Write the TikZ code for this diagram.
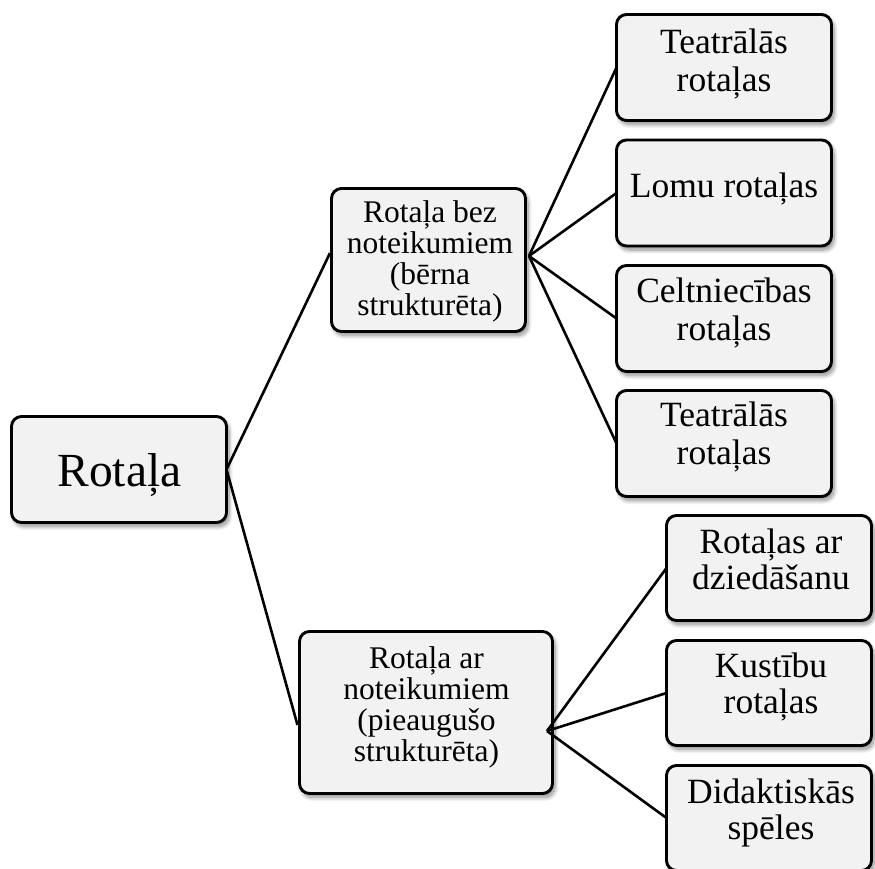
\documentclass[tikz,border=0pt]{standalone}
\usepackage{fontspec}
\setmainfont{Liberation Serif}
\usetikzlibrary{shadows.blur}
\definecolor{boxfill}{RGB}{242,242,242}
\begin{document}
\begin{tikzpicture}[x=1pt,y=-1pt,
  box/.style={draw=black, line width=2.9pt, fill=boxfill, rounded corners=10pt,
    inner sep=0pt, outer sep=0pt,
    blur shadow={shadow xshift=2.5pt, shadow yshift=-4pt, shadow blur radius=4pt,
      shadow blur steps=10, shadow opacity=45}},
  childbox/.style={box, minimum width=215pt, minimum height=106pt},
  lowbox/.style={box, minimum width=205pt, minimum height=105pt},
  txt/.style={anchor=base, align=center, inner sep=0pt},
  childtxt/.style={txt, font=\fontsize{35.5}{37.5}\selectfont},
  lowtxt/.style={txt, font=\fontsize{35.5}{36}\selectfont},
  midtxt/.style={txt, font=\fontsize{31.5}{30.8}\selectfont},
  conn/.style={draw=black, line width=2.6pt}]
\useasboundingbox (0,0) rectangle (875,868);
% boxes
\node[box, minimum width=215pt, minimum height=106pt] (root) at (119,469.5) {};
\node[box, minimum width=194pt, minimum height=143pt] (u1) at (428.5,260) {};
\node[box, minimum width=253pt, minimum height=162pt] (l1) at (426,712.5) {};
\node[childbox] (c1) at (724,67.5) {};
\node[childbox] (c2) at (724,193) {};
\node[childbox] (c3) at (724,318.5) {};
\node[childbox] (c4) at (724,443.5) {};
\node[lowbox] (d1) at (769,568) {};
\node[lowbox] (d2) at (769,693) {};
\node[lowbox] (d3) at (769,818) {};
% texts (anchor base = baseline of the last line)
\node[txt, font=\fontsize{47.5}{55}\selectfont] (troot) at (119.5,486) {Rotaļa};
\node[midtxt] (tu1) at (430,315) {Rotaļa bez\\noteikumiem\\(bērna\\strukturēta)};
\node[midtxt] (tl1) at (426.5,761) {Rotaļa ar\\noteikumiem\\(pieaugušo\\strukturēta)};
\node[childtxt] (tc1) at (724,91) {Teatrālās\\rotaļas};
\node[childtxt] (tc2) at (724,197) {Lomu rotaļas};
\node[childtxt] (tc3) at (724,340) {Celtniecības\\rotaļas};
\node[childtxt] (tc4) at (724,464) {Teatrālās\\rotaļas};
\node[lowtxt] (td1) at (771,589) {Rotaļas ar\\dziedāšanu};
\node[lowtxt] (td2) at (771,713) {Kustību\\rotaļas};
\node[lowtxt] (td3) at (771,839) {Didaktiskās\\spēles};
% connector end points
\coordinate (u1in) at (330,253);
\coordinate (l1in) at (297.5,725);
\coordinate (u1out) at (529,256);
\coordinate (l1out) at (547,731);
% connectors
\draw[conn] (root.east) -- (u1in);
\draw[conn] (root.east) -- (l1in);
\draw[conn] (u1out) -- (c1.west);
\draw[conn] (u1out) -- (c2.west);
\draw[conn] (u1out) -- (c3.west);
\draw[conn] (u1out) -- (c4.west);
\draw[conn] (l1out) -- (d1.west);
\draw[conn] (l1out) -- (d2.west);
\draw[conn] (l1out) -- (d3.west);
\end{tikzpicture}
\end{document}
